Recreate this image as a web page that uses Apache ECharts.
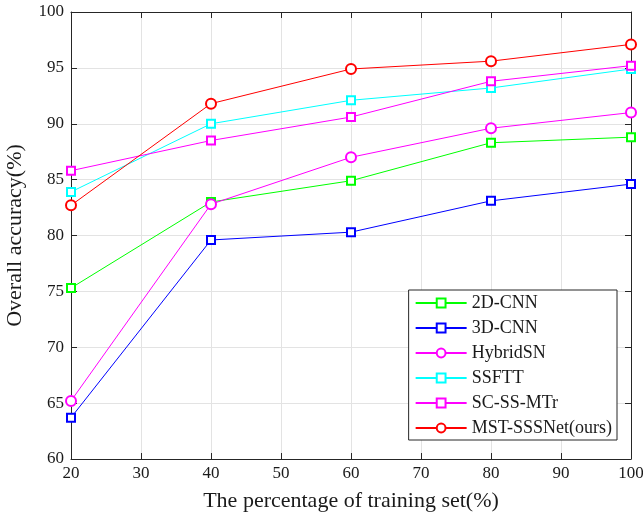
<!DOCTYPE html>
<html>
<head>
<meta charset="utf-8">
<script src="https://cdn.jsdelivr.net/npm/echarts@6/dist/echarts.min.js"></script>
<style>
  html, body { margin: 0; padding: 0; background: #fff; }
  #main { width: 643px; height: 519px; }
</style>
</head>
<body>
<div id="main"></div>
<script>
// 训练集比例
var percents = [20, 40, 60, 80, 100];

// 各方法的总体精度
var cnn2d = [75.3, 83.0, 84.9, 88.3, 88.8];
var cnn3d = [63.7, 79.6, 80.3, 83.1, 84.6];
var hybridSN = [65.2, 82.8, 87.0, 89.6, 91.0];
var ssftt = [83.9, 90.0, 92.1, 93.2, 94.9];
var scssmtr = [85.8, 88.5, 90.6, 93.8, 95.2];
var mstsssnet = [82.7, 91.8, 94.9, 95.6, 97.1];

var fontFamily = 'Liberation Serif';
var axisColor = '#262626';
var gridColor = '#e3e3e3';

function pairs(ys) {
    return percents.map(function (x, i) { return [x, ys[i]]; });
}

function makeSeries(name, data, color, symbol, size) {
    return {
        name: name,
        type: 'line',
        data: pairs(data),
        symbol: symbol,
        symbolSize: size,
        showAllSymbol: true,
        lineStyle: { color: color, width: 1 },
        itemStyle: { color: color, borderColor: color, borderWidth: 1 },
        xAxisIndex: 0,
        yAxisIndex: 0,
        z: 3
    };
}

var myChart = echarts.init(document.getElementById('main'));

var option = {
    backgroundColor: '#fff',
    animation: false,
    grid: { left: 71, right: 12, top: 12, bottom: 60, containLabel: false, outerBoundsMode: 'none' },
    legend: {
        orient: 'vertical',
        right: 26,
        bottom: 79,
        backgroundColor: '#fff',
        borderColor: axisColor,
        borderWidth: 1,
        padding: [4, 5, 3, 6],
        itemGap: 7,
        itemWidth: 51,
        itemHeight: 11,
        itemStyle: { borderWidth: 1 },
        textStyle: { fontFamily: fontFamily, fontSize: 18, color: '#1a1a1a' },
        data: ['2D-CNN', '3D-CNN', 'HybridSN', 'SSFTT', 'SC-SS-MTr', 'MST-SSSNet(ours)']
    },
    xAxis: [{
        type: 'value',
        min: 20, max: 100, interval: 10,
        name: 'The percentage of training set(%)',
        nameLocation: 'middle',
        nameGap: 31,
        nameTextStyle: { fontFamily: fontFamily, fontSize: 22, color: '#1a1a1a' },
        axisLine: { show: true, lineStyle: { color: axisColor, width: 1 } },
        axisTick: { show: true, inside: true, length: 6, lineStyle: { color: axisColor } },
        axisLabel: { margin: 6, fontFamily: fontFamily, fontSize: 17, color: '#1a1a1a' },
        splitLine: { show: true, lineStyle: { color: gridColor, width: 1 } }
    }, {
        type: 'value', position: 'top',
        min: 20, max: 100, interval: 10,
        axisLine: { show: true, onZero: false, lineStyle: { color: axisColor, width: 1 } },
        axisTick: { show: true, inside: true, length: 6, lineStyle: { color: axisColor } },
        axisLabel: { show: false },
        splitLine: { show: false }
    }],
    yAxis: [{
        type: 'value',
        min: 60, max: 100, interval: 5,
        name: 'Overall accuracy(%)',
        nameLocation: 'middle',
        nameGap: 45,
        nameTextStyle: { fontFamily: fontFamily, fontSize: 22, color: '#1a1a1a' },
        axisLine: { show: true, lineStyle: { color: axisColor, width: 1 } },
        axisTick: { show: true, inside: true, length: 6, lineStyle: { color: axisColor } },
        axisLabel: { margin: 7, fontFamily: fontFamily, fontSize: 17, color: '#1a1a1a' },
        splitLine: { show: true, lineStyle: { color: gridColor, width: 1 } }
    }, {
        type: 'value', position: 'right',
        min: 60, max: 100, interval: 5,
        axisLine: { show: true, onZero: false, lineStyle: { color: axisColor, width: 1 } },
        axisTick: { show: true, inside: true, length: 6, lineStyle: { color: axisColor } },
        axisLabel: { show: false },
        splitLine: { show: false }
    }],
    series: [
        makeSeries('2D-CNN', cnn2d, '#00ff00', 'emptyRect', 8),
        makeSeries('3D-CNN', cnn3d, '#0000ff', 'emptyRect', 8),
        makeSeries('HybridSN', hybridSN, '#ff00ff', 'emptyCircle', 10),
        makeSeries('SSFTT', ssftt, '#00ffff', 'emptyRect', 8),
        makeSeries('SC-SS-MTr', scssmtr, '#ff00ff', 'emptyRect', 8),
        makeSeries('MST-SSSNet(ours)', mstsssnet, '#ff0000', 'emptyCircle', 10)
    ]
};

myChart.setOption(option);
</script>
</body>
</html>
